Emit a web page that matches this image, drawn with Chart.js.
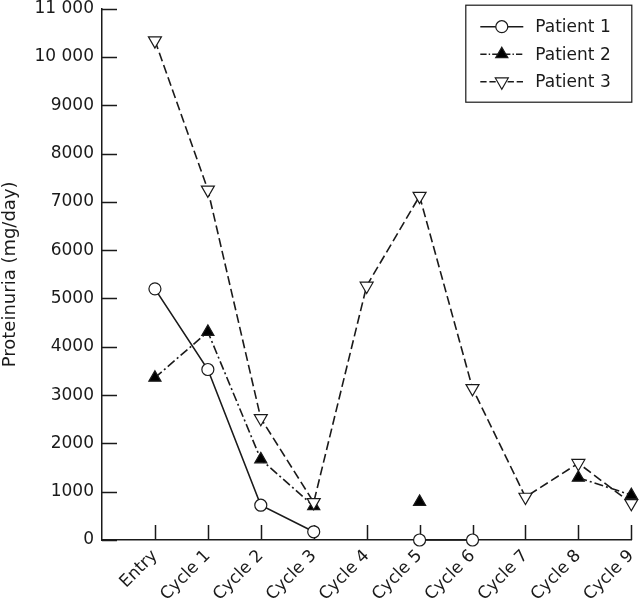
<!DOCTYPE html>
<html><head><meta charset="utf-8">
<script src="https://cdn.jsdelivr.net/npm/chart.js@4/dist/chart.umd.min.js"></script>
<style>html,body{margin:0;padding:0;background:#fff}#wrap{position:relative;width:640px;height:600px}</style>
</head><body><div id="wrap"><canvas id="c"></canvas></div>
<script>
const categories = ['Entry','Cycle 1','Cycle 2','Cycle 3','Cycle 4','Cycle 5','Cycle 6','Cycle 7','Cycle 8','Cycle 9'];
const patient1 = [5200, 3530, 720, 170, null, 0, 0, null, null, null];
const patient2 = [3360, 4310, 1670, 700, null, 790, null, null, 1290, 930];
const patient3 = [10340, 7250, 2520, 780, 5260, 7120, 3140, 890, 1590, 760];
const seriesNames = ['Patient 1','Patient 2','Patient 3'];
const yTickValues = [0,1000,2000,3000,4000,5000,6000,7000,8000,9000,10000,11000];

const FONT = 'DejaVu Sans';
const INK = '#1a1a1a';
const toPts = arr => arr.map((v,i)=>({x:i, y:v}));

const styles = [
  {pointStyle:'circle', radius:6, rotation:0, fill:'#fff', dash:[]},
  {pointStyle:'triangle', radius:7, rotation:0, fill:'#000', dash:[9,3,2,3]},
  {pointStyle:'triangle', radius:7.5, rotation:180, fill:'#fff', dash:[9,4]}
];
const seriesData = [patient1, patient2, patient3];

const datasets = seriesData.map((arr,k)=>({
  label: seriesNames[k],
  data: toPts(arr),
  borderColor: INK,
  borderWidth: 1.6,
  borderDash: styles[k].dash,
  pointStyle: styles[k].pointStyle,
  pointRotation: styles[k].rotation,
  pointRadius: styles[k].radius,
  pointBackgroundColor: styles[k].fill,
  pointBorderColor: INK,
  pointBorderWidth: 1.2,
  spanGaps: false,
  tension: 0,
  clip: false,
  order: 3-k
}));

function drawMarker(ctx, st, x, y){
  ctx.save();
  ctx.setLineDash([]);
  ctx.lineWidth = 1.2;
  ctx.strokeStyle = INK;
  ctx.fillStyle = st.fill;
  ctx.beginPath();
  if (st.pointStyle === 'circle') {
    ctx.arc(x, y, st.radius, 0, Math.PI*2);
  } else {
    let rad = st.rotation*Math.PI/180;
    const r = st.radius;
    for (let i=0;i<3;i++){
      const px = x + Math.sin(rad)*r, py = y - Math.cos(rad)*r;
      if (i===0) ctx.moveTo(px,py); else ctx.lineTo(px,py);
      rad += 2*Math.PI/3;
    }
    ctx.closePath();
  }
  ctx.fill(); ctx.stroke();
  ctx.restore();
}

const innerTicks = {
  id:'innerTicks',
  beforeDatasetsDraw(chart){
    const {ctx, chartArea:a, scales:{x,y}} = chart;
    ctx.save();
    ctx.strokeStyle = INK; ctx.lineWidth = 1.5;
    ctx.beginPath();
    yTickValues.forEach(v=>{ const py = Math.round(y.getPixelForValue(v))+0.5; ctx.moveTo(a.left, py); ctx.lineTo(a.left+15, py); });
    categories.forEach((c,i)=>{ const px = Math.round(x.getPixelForValue(i))+0.5; ctx.moveTo(px, a.bottom); ctx.lineTo(px, a.bottom-15); });
    ctx.stroke();
    ctx.restore();
  }
};

const boxLegend = {
  id:'boxLegend',
  afterDraw(chart){
    const {ctx, chartArea:a} = chart;
    const right = a.right, top = a.top - 4;
    const w = 166, h = 97;
    const left = right - w;
    ctx.save();
    ctx.fillStyle = '#fff';
    ctx.fillRect(left, top, w, h);
    ctx.strokeStyle = INK; ctx.lineWidth = 1.2;
    ctx.strokeRect(left+0.5, top+0.5, w, h);
    seriesNames.forEach((name,k)=>{
      const cy = top + 22 + k*27.5;
      const x0 = left + 15, x1 = left + 58, xm = (x0+x1)/2;
      ctx.setLineDash(styles[k].dash.map(d=>d*0.7));
      ctx.lineWidth = 1.5; ctx.strokeStyle = INK;
      ctx.beginPath(); ctx.moveTo(x0, cy); ctx.lineTo(x1, cy); ctx.stroke();
      drawMarker(ctx, styles[k], xm, cy);
      ctx.setLineDash([]);
      ctx.fillStyle = INK;
      ctx.font = '17px "' + FONT + '"';
      ctx.textBaseline = 'middle'; ctx.textAlign = 'left';
      ctx.fillText(name, left + 70, cy+1);
    });
    ctx.restore();
  }
};

new Chart(document.getElementById('c'), {
  type:'line',
  data:{ datasets },
  plugins:[innerTicks, boxLegend],
  options:{
    responsive:true, maintainAspectRatio:false, animation:false,
    layout:{ padding:{ top:7, right:7, left:0, bottom:0 } },
    plugins:{ legend:{display:false}, tooltip:{enabled:false} },
    scales:{
      x:{
        type:'linear', min:-1, max:9,
        afterFit:(s)=>{ s.paddingRight = 0; s.paddingLeft = 0; s.height = 60; },
        border:{display:true, color:INK, width:1.5},
        grid:{display:true, drawOnChartArea:false, drawTicks:false},
        ticks:{
          stepSize:1, autoSkip:false, minRotation:45, maxRotation:45, padding:6,
          color:INK, font:{family:FONT, size:17},
          callback:(v)=> (v>=0 && v<categories.length) ? categories[v] : ''
        }
      },
      y:{
        min:0, max:11000,
        afterFit:(s)=>{ s.width = 102; s.paddingTop = 0; s.paddingBottom = 0; },
        border:{display:true, color:INK, width:1.5},
        grid:{display:true, drawOnChartArea:false, drawTicks:false},
        title:{display:true, text:'Proteinuria (mg/day)', color:INK, font:{family:FONT, size:18}, padding:{top:0,bottom:0}},
        ticks:{
          stepSize:1000, padding:8, color:INK, font:{family:FONT, size:17},
          callback:(v)=> v>=10000 ? String(Math.floor(v/1000))+' '+String(v%1000).padStart(3,'0') : String(v)
        }
      }
    }
  }
});
</script></body></html>
